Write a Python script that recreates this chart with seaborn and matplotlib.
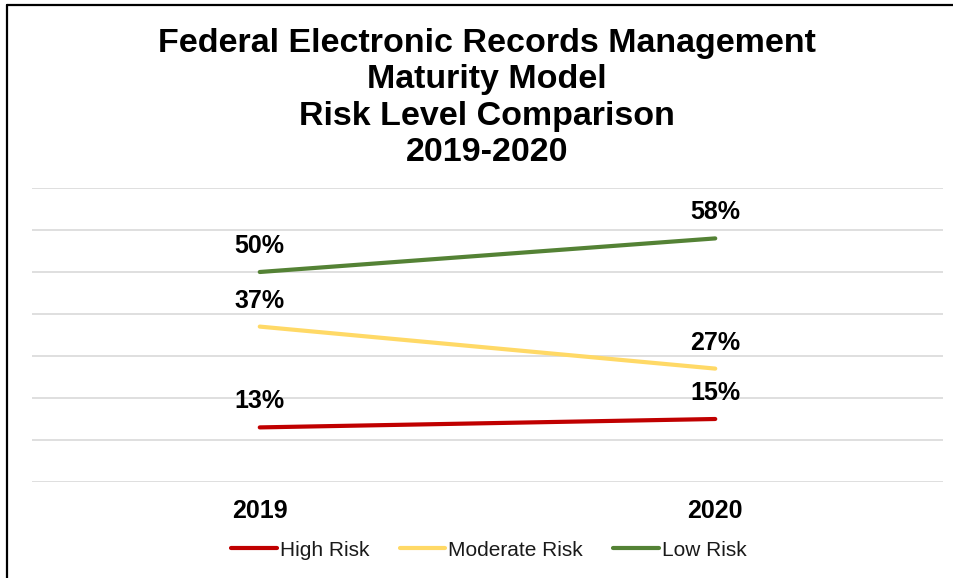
import matplotlib
matplotlib.use("Agg")
import matplotlib.pyplot as plt
import seaborn as sns
import pandas as pd
from matplotlib.lines import Line2D

years = ["2019", "2020"]
series = ["High Risk", "Moderate Risk", "Low Risk"]
high_risk = [13, 15]
moderate_risk = [37, 27]
low_risk = [50, 58]
colors = ["#C00000", "#FFD966", "#548235"]
title = "Federal Electronic Records Management\nMaturity Model\nRisk Level Comparison\n2019-2020"

sns.set_theme(style="white")
plt.rcParams["font.family"] = ["Liberation Sans", "DejaVu Sans"]

rows = []
for name, vals in zip(series, [high_risk, moderate_risk, low_risk]):
    for y, v in zip(years, vals):
        rows.append({"Year": y, "Risk": name, "Value": v})
df = pd.DataFrame(rows)

fig = plt.figure(figsize=(9.54, 5.78), dpi=100)
ax = fig.add_axes([32/954, 1-482/578, (943-32)/954, (482-188)/578])

sns.lineplot(data=df, x="Year", y="Value", hue="Risk", hue_order=series,
             palette=colors, linewidth=3, ax=ax, legend=False,
             solid_capstyle="round", sort=False)

ax.set_xlim(-0.5, 1.5)
ax.set_ylim(0, 70)
ax.set_yticks(range(0, 71, 10))
ax.yaxis.grid(True, color="#D9D9D9", linewidth=1.2)
ax.set_axisbelow(True)
ax.tick_params(axis="y", left=False, labelleft=False)
ax.tick_params(axis="x", length=0, pad=12)
for lab in ax.get_xticklabels():
    lab.set_fontsize(18)
    lab.set_fontweight("bold")
    lab.set_color("black")
ax.set_xlabel("")
ax.set_ylabel("")
for s in ax.spines.values():
    s.set_visible(False)

for name, vals in zip(series, [high_risk, moderate_risk, low_risk]):
    for i, v in enumerate(vals):
        ax.annotate(f"{v}%", (i, v), xytext=(0, 26), textcoords="offset pixels",
                    ha="center", va="center", fontsize=18, fontweight="bold",
                    color="black")

fig.text(487/954, 1-98/578, title, ha="center", va="center", fontsize=24.5,
         fontweight="bold", color="black", linespacing=1.22)

handles = [Line2D([0], [0], color=c, linewidth=3, solid_capstyle="round") for c in colors]
leg = fig.legend(handles, series, loc="center", bbox_to_anchor=(489/954, 1-550/578),
                 ncol=3, frameon=False, fontsize=15, handlelength=2.2,
                 handletextpad=0.15, columnspacing=1.45)
for t in leg.get_texts():
    t.set_color("#1a1a1a")

# partial border (top and left)
fig.add_artist(Line2D([7/954, 1], [1-5/578, 1-5/578], color="black", linewidth=1.6,
                      transform=fig.transFigure))
fig.add_artist(Line2D([7/954, 7/954], [0, 1-5/578], color="black", linewidth=1.6,
                      transform=fig.transFigure))

fig.savefig("out.png", dpi=100)
